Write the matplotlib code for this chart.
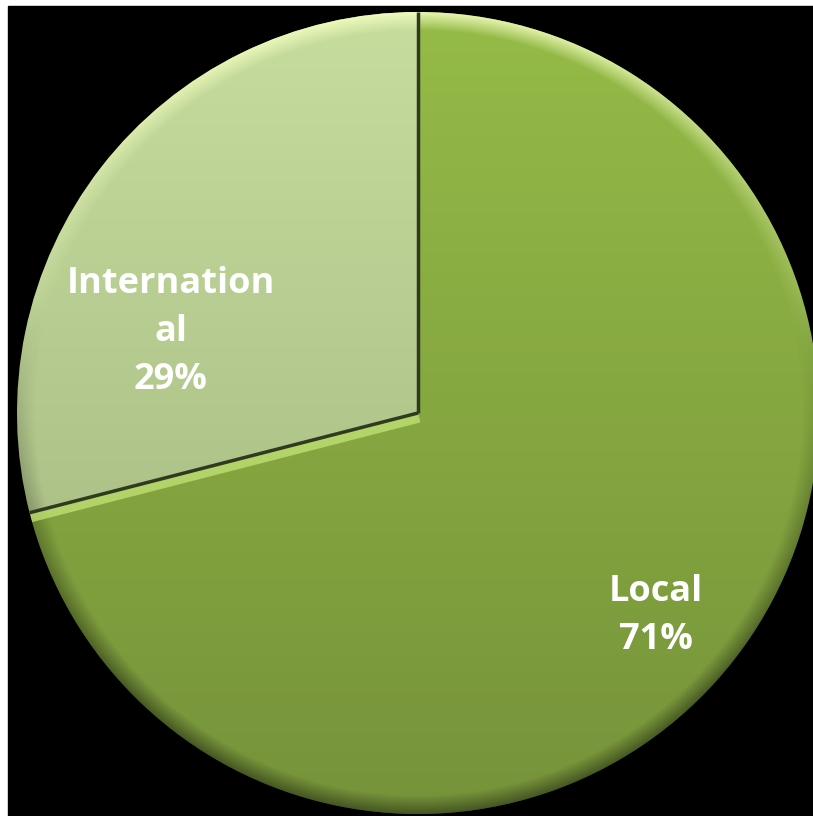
import matplotlib
matplotlib.use("Agg")
import matplotlib.pyplot as plt
import numpy as np
from matplotlib.patches import Rectangle

labels = ["Local", "International"]
shares = [71, 29]
label_text = ["Local\n71%", "Internation\nal\n29%"]
# top / bottom colours of each slice
top_colors = ["#95bb47", "#c6dd9e"]
bottom_colors = ["#76933a", "#9fb27b"]

W, H = 813, 816
fig = plt.figure(figsize=(W / 100, H / 100), dpi=100, facecolor="white")
ax = fig.add_axes([0, 0, 1, 1])
ax.set_xlim(0, W)
ax.set_ylim(0, H)
ax.axis("off")

# black plot area, white strip on top and left
ax.add_patch(Rectangle((8, 0), W - 8, H - 6, color="black", zorder=0))

cx, cy, r = 418, 403, 401
wedges, _ = ax.pie(shares, startangle=90, counterclock=False, center=(cx, cy),
                   radius=r, frame=True, wedgeprops=dict(linewidth=0))
ax.set_xlim(0, W)
ax.set_ylim(0, H)
ax.set_aspect("auto")

# vertical gradients clipped to each wedge
ext = [cx - r, cx + r, cy - r, cy + r]
t = np.linspace(0, 1, 256)[:, None]
for w, c1, c2 in zip(wedges, top_colors, bottom_colors):
    a = np.array(matplotlib.colors.to_rgb(c1))
    b = np.array(matplotlib.colors.to_rgb(c2))
    grad = (a * (1 - t) + b * t)[:, None, :].repeat(2, axis=1)
    im = ax.imshow(grad, extent=ext, origin="upper", aspect="auto", zorder=2)
    im.set_clip_path(w)
    w.set_facecolor("none")

# bevel at the rim: light on top, dark at the bottom
n = 600
yy, xx = np.mgrid[1:-1:n * 1j, -1:1:n * 1j]
rr = np.sqrt(xx ** 2 + yy ** 2)
sn = yy / np.maximum(rr, 1e-6)
wgt = np.clip((rr - 0.955) / 0.045, 0, 1)
light = np.zeros((n, n, 4))
light[..., :3] = matplotlib.colors.to_rgb("#f4ffc0")
light[..., 3] = wgt * 0.85 * np.clip(sn, 0, 1) ** 1.5
dark = np.zeros((n, n, 4))
dark[..., 3] = wgt * 0.4 * np.clip(0.3 - sn, 0, 1)
for w in wedges:
    for ov in (light, dark):
        im = ax.imshow(ov, extent=ext, origin="upper", aspect="auto", zorder=2.5)
        im.set_clip_path(w)

# slice borders with light bevel on the Local side
ang = np.deg2rad(90 + 360 * shares[1] / 100)
ex, ey = cx + r * np.cos(ang), cy + r * np.sin(ang)
band, = ax.plot([cx, ex], [cy, ey], color="#c2e477", lw=14, alpha=0.75,
                solid_capstyle="butt", zorder=2.6)
band.set_clip_path(wedges[0])
ax.plot([cx, ex], [cy, ey], color="#2f3a20", lw=2.5, zorder=3,
        solid_capstyle="butt")
ax.plot([cx, cx], [cy, cy + r], color="#2f3a20", lw=2.5, zorder=3,
        solid_capstyle="butt")

ax.text(656, H - 616, label_text[0], ha="center", va="center", color="white",
        fontsize=26, fontweight="bold", family="Open Sans", linespacing=1.45,
        zorder=5)
ax.text(171, H - 332, label_text[1], ha="center", va="center", color="white",
        fontsize=26, fontweight="bold", family="Open Sans", linespacing=1.45,
        zorder=5)

fig.savefig("out.png", dpi=100, facecolor="white")
